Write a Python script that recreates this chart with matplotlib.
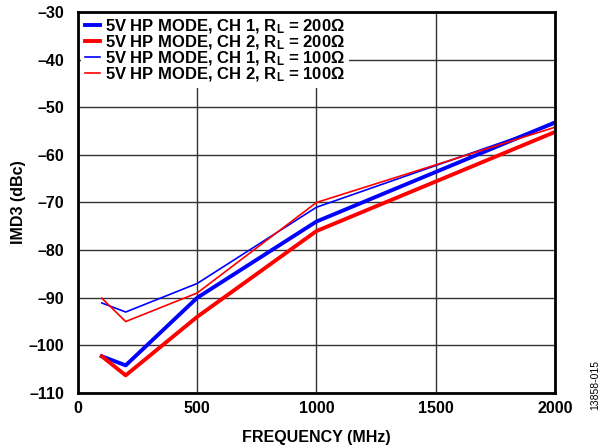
import matplotlib
matplotlib.use("Agg")
import matplotlib.pyplot as plt

plt.rcParams['font.family'] = ['Liberation Sans', 'DejaVu Sans']
plt.rcParams['font.weight'] = 'bold'
plt.rcParams['mathtext.default'] = 'regular'

freq = [100, 200, 500, 1000, 2000]
ch1_200 = [-102.3, -104.2, -90, -74, -53.2]
ch2_200 = [-102.3, -106.3, -94, -76, -55.2]
ch1_100 = [-91.1, -93, -87, -71, -53.5]
ch2_100 = [-90.1, -95, -89, -70, -54.2]

labels = [r'5V HP MODE, CH 1, R$_L$ = 200Ω',
          r'5V HP MODE, CH 2, R$_L$ = 200Ω',
          r'5V HP MODE, CH 1, R$_L$ = 100Ω',
          r'5V HP MODE, CH 2, R$_L$ = 100Ω']

fig = plt.figure(figsize=(6.07, 4.48), dpi=100)
ax = fig.add_axes([0.1285, 0.1228, 0.7856, 0.8504])

ax.plot(freq, ch1_200, color='#0000ff', lw=2.8, label=labels[0], zorder=3)
ax.plot(freq, ch2_200, color='#ff0000', lw=2.8, label=labels[1], zorder=3)
ax.plot(freq, ch1_100, color='#0000ff', lw=1.2, label=labels[2], zorder=3)
ax.plot(freq, ch2_100, color='#ff0000', lw=1.2, label=labels[3], zorder=3)

ax.set_xlim(0, 2000)
ax.set_ylim(-110, -30)
ax.set_xticks([0, 500, 1000, 1500, 2000])
ax.set_yticks(range(-110, -29, 10))
ax.set_yticklabels([f'\u2013{abs(v)}' for v in range(-110, -29, 10)])
ax.grid(True, color='#333333', lw=1.0)
ax.tick_params(length=0, labelsize=11.5)
ax.tick_params(axis='x', pad=6)
ax.tick_params(axis='y', pad=10)
for s in ax.spines.values():
    s.set_linewidth(2.0)
    s.set_zorder(5)

ax.set_xlabel('FREQUENCY (MHz)', fontsize=11.5, fontweight='bold', labelpad=10)
ax.set_ylabel('IMD3 (dBc)', fontsize=11.5, fontweight='bold', labelpad=2)

leg = ax.legend(loc='upper left', bbox_to_anchor=(0.0, 1.005), fontsize=12,
                frameon=True, fancybox=False, handlelength=0.85, handletextpad=0.3,
                labelspacing=-0.15, borderpad=0.25, borderaxespad=0.2)
leg.get_frame().set_edgecolor('none')
leg.get_frame().set_facecolor('white')
leg.get_frame().set_alpha(1.0)
leg.set_zorder(4)

fig.text(0.98, 0.14, '13858-015', rotation=90, fontsize=7.5, fontweight='normal',
         ha='center', va='center')

fig.savefig('out.png', dpi=100)
